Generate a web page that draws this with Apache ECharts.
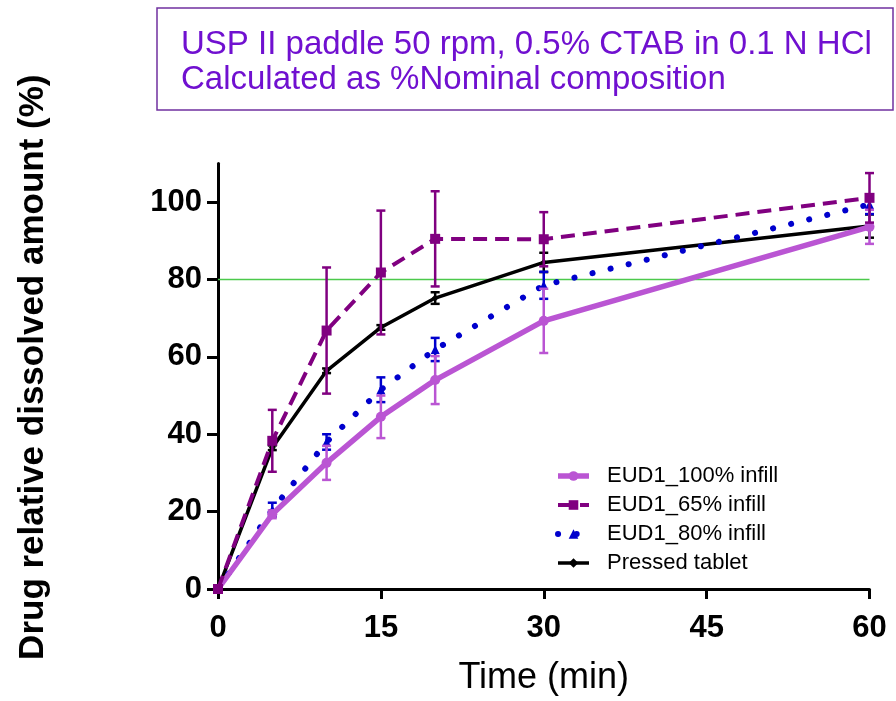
<!DOCTYPE html>
<html><head><meta charset="utf-8">
<script src="https://cdn.jsdelivr.net/npm/echarts@6/dist/echarts.min.js"></script>
<style>html,body{margin:0;padding:0;background:#fff}#c{width:896px;height:701px}</style>
</head><body><div id="c"></div>
<script>
// ---- data ----
const timeMin = [0, 5, 10, 15, 20, 30, 60];
const xTicks = [0, 15, 30, 45, 60];
const yTicks = [0, 20, 40, 60, 80, 100];
const targetLevel = 80;

const eud100 = [0, 19.3, 32.6, 44.5, 54.0, 69.3, 93.6];
const eud100Sd = [0, 1.0, 4.4, 5.5, 6.2, 8.3, 4.4];
const eud65 = [0, 38.3, 66.8, 81.8, 90.5, 90.4, 101.1];
const eud65Sd = [0, 8.0, 16.3, 16.0, 12.3, 7.0, 6.4];
const eud80 = [0, 20.5, 38.0, 51.5, 61.9, 78.5, 99.4];
const eud80Sd = [0, 1.8, 2.0, 3.2, 3.0, 3.5, 2.5];
const pressed = [0, 36.5, 56.4, 67.6, 75.2, 84.4, 93.8];
const pressedSd = [0, 0.6, 0.6, 0.6, 1.5, 2.5, 3.0];

const seriesNames = ['EUD1_100% infill', 'EUD1_65% infill', 'EUD1_80% infill', 'Pressed tablet'];
const titleLines = ['USP II paddle 50 rpm, 0.5% CTAB in 0.1 N HCl', 'Calculated as %Nominal composition'];

// ---- helpers ----
const FONT = '"Liberation Sans", Arial, sans-serif';
function pts(vals) { return timeMin.map((t, i) => [t, vals[i]]); }
function errSeries(name, mean, sd, color, z) {
  const data = [];
  timeMin.forEach((t, i) => { if (sd[i] > 0) data.push([t, mean[i] - sd[i], mean[i] + sd[i]]); });
  return {
    type: 'custom', name: name + ' SD', data, z: z, silent: true, clip: false,
    encode: { x: 0, y: [1, 2] },
    renderItem(params, api) {
      const x = api.value(0);
      const lo = api.coord([x, api.value(1)]);
      const hi = api.coord([x, api.value(2)]);
      const hw = 4.5;
      const style = { stroke: color, lineWidth: 2.5, fill: null };
      return { type: 'group', children: [
        { type: 'line', shape: { x1: lo[0], y1: lo[1], x2: hi[0], y2: hi[1] }, style },
        { type: 'line', shape: { x1: lo[0] - hw, y1: lo[1], x2: lo[0] + hw, y2: lo[1] }, style },
        { type: 'line', shape: { x1: hi[0] - hw, y1: hi[1], x2: hi[0] + hw, y2: hi[1] }, style }
      ]};
    }
  };
}

const C100 = '#BA55D3', C65 = '#800080', C80 = '#0000CD', CP = '#000000';

const chart = echarts.init(document.getElementById('c'), null, { renderer: 'canvas' });
chart.setOption({
  animation: false,
  backgroundColor: '#fff',
  textStyle: { fontFamily: FONT },
  grid: { left: 218, right: 26.5, top: 163.4, bottom: 105.3, containLabel: false },
  graphic: [
    { type: 'rect', shape: { x: 157, y: 8, width: 736, height: 102 },
      style: { fill: '#fff', stroke: '#7030A0', lineWidth: 1.5 } },
    { type: 'text', x: 181, y: 45, style: { text: titleLines[0], font: '33px ' + FONT, fill: '#7010D0', verticalAlign: 'middle' } },
    { type: 'text', x: 181, y: 80, style: { text: titleLines[1], font: '33px ' + FONT, fill: '#7010D0', verticalAlign: 'middle' } }
  ],
  legend: {
    data: seriesNames, orient: 'vertical', left: 550, top: 460,
    itemWidth: 31, itemHeight: 12, itemGap: 7,
    lineStyle: { width: 'inherit' },
    textStyle: { fontSize: 22, color: '#000', fontFamily: FONT, padding: [0, 0, 0, 13] }
  },
  xAxis: {
    type: 'value', min: 0, max: 60, interval: 15,
    name: 'Time (min)', nameLocation: 'middle', nameGap: 71,
    nameTextStyle: { fontSize: 36, color: '#000', fontFamily: FONT },
    axisLine: { lineStyle: { color: '#000', width: 3 } },
    axisTick: { length: 10, lineStyle: { color: '#000', width: 3 } },
    axisLabel: { fontSize: 31, fontWeight: 'bold', color: '#000', margin: 24, fontFamily: FONT },
    splitLine: { show: false }
  },
  yAxis: {
    type: 'value', min: 0, max: 110,
    name: 'Drug relative dissolved amount (%)', nameLocation: 'middle', nameGap: 167, nameRotate: 90,
    nameTextStyle: { fontSize: 35, fontWeight: 'bold', color: '#000', fontFamily: FONT, padding: [0, 0, 0, 18] },
    axisLine: { show: true, lineStyle: { color: '#000', width: 3 } },
    axisTick: { show: true, length: 11, customValues: yTicks, lineStyle: { color: '#000', width: 3 } },
    axisLabel: { customValues: yTicks, fontSize: 31, fontWeight: 'bold', color: '#000', margin: 16, fontFamily: FONT },
    splitLine: { show: false }
  },
  series: [
    { type: 'line', name: 'target', data: [[timeMin[0], targetLevel], [timeMin[timeMin.length - 1], targetLevel]],
      symbol: 'none', silent: true, z: 1, lineStyle: { color: '#4CC94C', width: 1.5 } },
    { type: 'line', name: seriesNames[3], data: pts(pressed), z: 4,
      symbol: 'diamond', symbolSize: 7, itemStyle: { color: CP }, lineStyle: { color: CP, width: 3.5 } },
    errSeries(seriesNames[3], pressed, pressedSd, CP, 4),
    { type: 'line', name: seriesNames[2], data: pts(eud80), z: 5,
      symbol: 'triangle', symbolSize: 9, itemStyle: { color: C80 },
      lineStyle: { color: C80, width: 6, type: [0.1, 18.5], cap: 'round' } },
    errSeries(seriesNames[2], eud80, eud80Sd, C80, 5),
    { type: 'line', name: seriesNames[0], data: pts(eud100), z: 6,
      symbol: 'circle', symbolSize: 10, itemStyle: { color: C100 }, lineStyle: { color: C100, width: 5.5 } },
    errSeries(seriesNames[0], eud100, eud100Sd, C100, 6),
    { type: 'line', name: seriesNames[1], data: pts(eud65), z: 7,
      symbol: 'rect', symbolSize: 10, itemStyle: { color: C65 },
      lineStyle: { color: C65, width: 4, type: [14, 8] } },
    errSeries(seriesNames[1], eud65, eud65Sd, C65, 7)
  ]
});
</script>
</body></html>
